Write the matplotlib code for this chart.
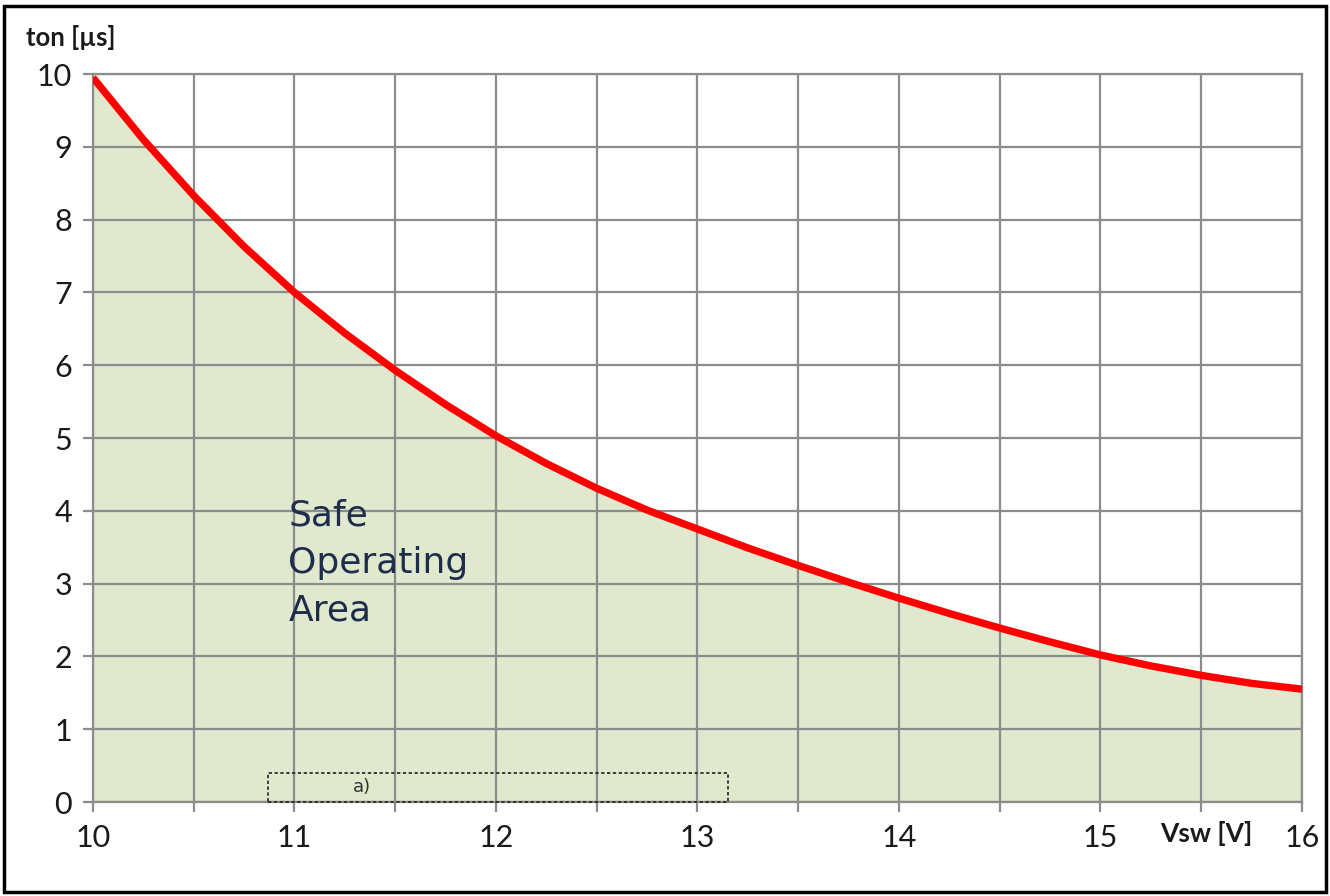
import matplotlib.pyplot as plt
from matplotlib.patches import Rectangle

# --- Data ---
vsw = [10.0, 10.25, 10.5, 10.75, 11.0, 11.25, 11.5, 11.75, 12.0, 12.25, 12.5, 12.75,
       13.0, 13.25, 13.5, 13.75, 14.0, 14.25, 14.5, 14.75, 15.0, 15.25, 15.5, 15.75, 16.0]
ton = [9.95, 9.10, 8.33, 7.63, 7.00, 6.44, 5.93, 5.46, 5.03, 4.65, 4.31, 4.01,
       3.75, 3.49, 3.25, 3.02, 2.80, 2.59, 2.39, 2.20, 2.02, 1.87, 1.74, 1.63, 1.55]

x_ticks = [10, 10.5, 11, 11.5, 12, 12.5, 13, 13.5, 14, 14.5, 15, 15.5, 16]
x_labels = ['10', '', '11', '', '12', '', '13', '', '14', '', '15', '', '16']
y_ticks = list(range(0, 11))

box_x = [10.87, 13.15]
box_y = [0.0, 0.40]

GRID = '#8c8c8c'
FILL = '#e0e8cd'
RED = '#ff0000'

fig = plt.figure(figsize=(13.3, 8.96), dpi=100)
ax = fig.add_axes([0.0699, 0.1049, 0.9090, 0.8125])

ax.fill_between(vsw, ton, 0, color=FILL, zorder=1, linewidth=0)
ax.plot(vsw, ton, color=RED, linewidth=5.3, solid_capstyle='butt',
        solid_joinstyle='round', zorder=4)

ax.set_xlim(10, 16)
ax.set_ylim(0, 10)
ax.set_xticks(x_ticks)
ax.set_xticklabels(x_labels)
ax.set_yticks(y_ticks)
ax.grid(True, color=GRID, linewidth=1.6, zorder=2)
ax.set_axisbelow(False)
for sp in ax.spines.values():
    sp.set_color(GRID)
    sp.set_linewidth(1.6)
    sp.set_zorder(2)
ax.tick_params(axis='both', length=7, width=1.6, color=GRID,
               labelsize=22, labelcolor='#1a1a1a')
ax.tick_params(axis='x', pad=9)
ax.tick_params(axis='y', pad=8)
for lab in ax.get_xticklabels() + ax.get_yticklabels():
    lab.set_family('Lato')

# dashed annotation box
ax.add_patch(Rectangle((box_x[0], box_y[0]), box_x[1] - box_x[0], box_y[1] - box_y[0],
                       fill=False, linestyle=(0, (2, 1.5)), edgecolor='#222222',
                       linewidth=1.2, zorder=5, clip_on=False))
ax.text(11.29, 0.2, 'a)', fontsize=13, color='#333333', va='center', ha='left', zorder=6)

ax.text(10.97, 3.28, 'Safe\nOperating\nArea', fontsize=26, color='#1f2d4d',
        va='center', ha='left', linespacing=1.5, family='DejaVu Sans', zorder=6)

# axis titles
fig.text(26 / 1330, 1 - 38 / 896, 'ton [µs]', fontsize=18.5, fontweight='bold',
         family='Lato', color='#1a1a1a', ha='left', va='center')
fig.text(1160 / 1330, 1 - 833 / 896, 'Vsw [V]', fontsize=19, fontweight='bold',
         family='Lato', color='#1a1a1a', ha='left', va='center')

# outer black border
fig.patches.append(Rectangle((4 / 1330, 4 / 896), 1 - 8 / 1330, 1 - 10 / 896,
                             transform=fig.transFigure, fill=False,
                             edgecolor='black', linewidth=2.5))

fig.savefig('out.png', dpi=100)
